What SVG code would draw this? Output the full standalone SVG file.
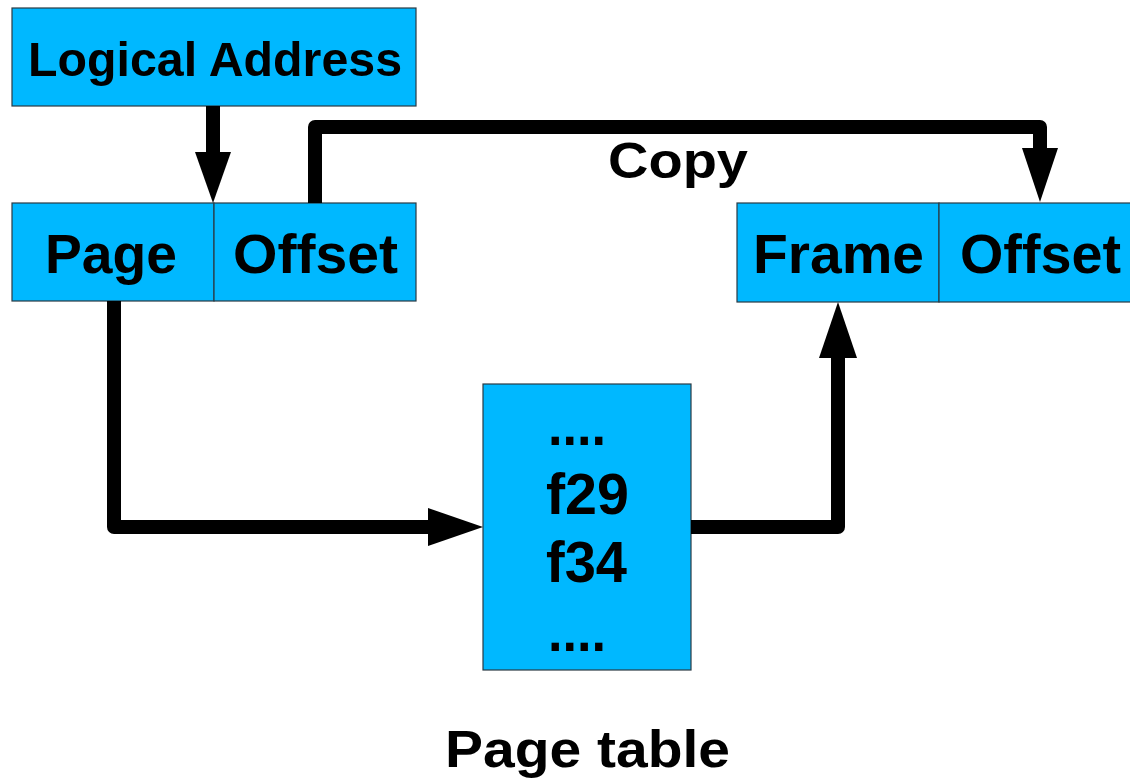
<svg xmlns="http://www.w3.org/2000/svg" width="1130" height="784" viewBox="0 0 1130 784">
<style>
.box{fill:#00b8ff;stroke:#2a3a44;stroke-width:1.2}
.t{font-family:"Liberation Sans",Arial,sans-serif;font-weight:bold;fill:#000}
.wire{fill:none;stroke:#000;stroke-width:14;stroke-linejoin:round}
.head{fill:#000}
</style>
<rect width="1130" height="784" fill="#fff"/>
<g id="logical-address">
<rect class="box" x="12" y="8" width="404" height="98"/>
<text class="t" x="28" y="76" font-size="48" textLength="374" lengthAdjust="spacingAndGlyphs">Logical Address</text>
</g>
<g id="page">
<rect class="box" x="12" y="203" width="202" height="98"/>
<text class="t" x="45" y="273" font-size="55" textLength="132" lengthAdjust="spacingAndGlyphs">Page</text>
</g>
<g id="offset-logical">
<rect class="box" x="214" y="203" width="202" height="98"/>
<text class="t" x="233" y="273" font-size="55" textLength="165" lengthAdjust="spacingAndGlyphs">Offset</text>
</g>
<g id="frame">
<rect class="box" x="737" y="203" width="202" height="99"/>
<text class="t" x="753" y="273" font-size="55" textLength="171" lengthAdjust="spacingAndGlyphs">Frame</text>
</g>
<g id="offset-physical">
<rect class="box" x="939" y="203" width="202" height="99"/>
<text class="t" x="960" y="273" font-size="55" textLength="161" lengthAdjust="spacingAndGlyphs">Offset</text>
</g>
<g id="page-table">
<rect class="box" x="483" y="384" width="208" height="286"/>
<text class="t" x="548" y="445" font-size="55" textLength="58" lengthAdjust="spacingAndGlyphs">....</text>
<text class="t" x="546" y="514" font-size="57" textLength="83" lengthAdjust="spacingAndGlyphs">f29</text>
<text class="t" x="546" y="582" font-size="57" textLength="81" lengthAdjust="spacingAndGlyphs">f34</text>
<text class="t" x="548" y="651" font-size="55" textLength="58" lengthAdjust="spacingAndGlyphs">....</text>
</g>
<g id="labels">
<text class="t" x="608" y="178" font-size="50" textLength="140" lengthAdjust="spacingAndGlyphs">Copy</text>
<text class="t" x="445" y="767" font-size="52" textLength="285" lengthAdjust="spacingAndGlyphs">Page table</text>
</g>
<g id="connectors">
<path class="wire" d="M213,106 V153"/>
<polygon class="head" points="195,152 231,152 213,203"/>
<path class="wire" d="M315,203 V127 H1040 V149"/>
<polygon class="head" points="1022,148 1058,148 1040,202"/>
<path class="wire" d="M114,301 V527 H429"/>
<polygon class="head" points="428,508 428,546 483,527"/>
<path class="wire" d="M691,527 H838 V357"/>
<polygon class="head" points="819,358 857,358 838,302"/>
</g>
</svg>
